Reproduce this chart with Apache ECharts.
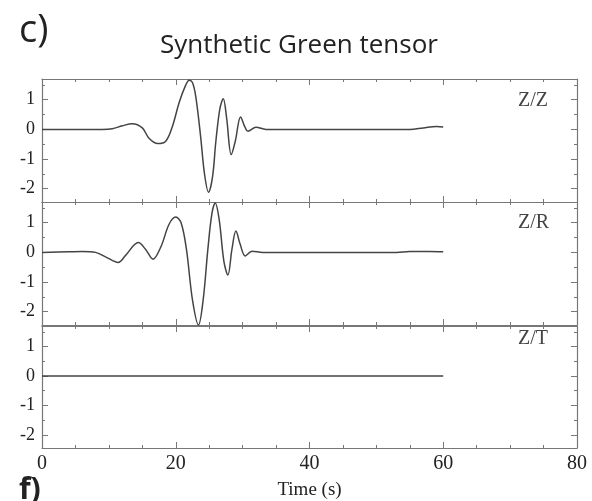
<!DOCTYPE html>
<html>
<head>
<meta charset="utf-8">
<script src="https://cdn.jsdelivr.net/npm/echarts@6/dist/echarts.min.js"></script>
<style>
  html, body { margin: 0; padding: 0; background: #fff; }
  #main { width: 592px; height: 501px; }
</style>
</head>
<body>
<div id="main"></div>
<script>
// traces, [time (s), amplitude]
var zzTrace = [[0,0],[5,0],[9,0],[10.5,0.02],[12,0.12],[13.5,0.19],[15,0.05],[16,-0.3],[17.3,-0.48],
  [18.5,-0.4],[19.5,0.1],[20.5,0.9],[21.5,1.5],[22,1.66],[22.5,1.58],[23,1.1],[23.7,-0.2],[24.3,-1.5],
  [24.9,-2.12],[25.5,-1.6],[26,-0.4],[26.6,0.7],[27.1,1.03],[27.6,0.4],[28.3,-0.85],[28.9,-0.4],
  [29.7,0.42],[30.3,0.1],[30.8,-0.06],[32,0.07],[33.5,0],[55,0],[57,0.05],[59,0.1],[60,0.08]];
var zrTrace = [[0,0],[4,0.02],[6,0.03],[8,0],[9.5,-0.15],[11.4,-0.34],[12.5,-0.1],[14.4,0.33],[15.5,0.1],
  [16.6,-0.23],[17.8,0.2],[19,0.95],[20,1.19],[20.8,1.0],[21.6,0.1],[22.5,-1.6],[23.4,-2.45],[24.1,-1.6],
  [24.8,0.1],[25.4,1.3],[25.9,1.67],[26.5,1.1],[27.2,-0.3],[27.8,-0.76],[28.4,0.1],[29,0.72],[29.6,0.3],
  [30.4,-0.12],[31.4,0.04],[33,0],[53,0],[55,0.03],[58,0.03],[60,0.02]];
var ztTrace = [[0,0],[20,0],[40,0],[60,0]];
var panelNames = ['Z/Z', 'Z/R', 'Z/T'];
var yMajor = [-2, -1, 0, 1];
var yMinor = [-1.5, -0.5, 0.5, 1.5];

var traces = [zzTrace, zrTrace, ztTrace];
var axisColor = '#777';
var serif = 'Liberation Serif';

var chart = echarts.init(document.getElementById('main'));

var tops = [79, 202, 326];
var grids = [], xAxes = [], yAxes = [], series = [];
tops.forEach(function (top, i) {
  grids.push({ left: 42, right: 15, top: top, height: 123 });
  ['bottom', 'top'].forEach(function (pos) {
    var last = (i === 2 && pos === 'bottom');
    xAxes.push({
      type: 'value', gridIndex: i, position: pos, min: 0, max: 80, interval: 20,
      axisLine: { show: true, onZero: false, lineStyle: { color: axisColor, width: 1.2 } },
      axisTick: { show: true, inside: true, length: 6, lineStyle: { color: axisColor } },
      minorTick: { show: true, splitNumber: 4, length: 3, lineStyle: { color: axisColor } },
      splitLine: { show: false },
      axisLabel: { show: last, color: '#222', fontFamily: serif, fontSize: 20, margin: 6 },
      name: last ? 'Time (s)' : '',
      nameLocation: 'middle', nameGap: 33,
      nameTextStyle: { color: '#222', fontFamily: serif, fontSize: 19 }
    });
  });
  ['left', 'right'].forEach(function (pos) {
    [[yMajor, 6], [yMinor, 3]].forEach(function (t, k) {
      yAxes.push({
        type: 'value', gridIndex: i, position: pos, min: -2.45, max: 1.7,
        axisLine: { show: k === 0, onZero: false, lineStyle: { color: axisColor, width: 1.2 } },
        axisTick: { show: true, inside: true, length: t[1], customValues: t[0],
          lineStyle: { color: axisColor } },
        splitLine: { show: false },
        axisLabel: { show: pos === 'left' && k === 0, customValues: yMajor, color: '#222',
          fontFamily: serif, fontSize: 18, margin: 7 }
      });
    });
  });
  series.push({
    type: 'line', xAxisIndex: i * 2, yAxisIndex: i * 4, data: traces[i],
    smooth: 0.35, showSymbol: false, silent: true,
    lineStyle: { color: '#444', width: 1.5 }
  });
});

var graphics = [
  { type: 'text', left: 19, top: 12, style: { text: 'c)', font: '38px "Open Sans"', fill: '#222' } },
  { type: 'text', left: 160, top: 33, style: { text: 'Synthetic Green tensor', font: '26px "Open Sans"', fill: '#222' } },
  { type: 'text', left: 19, top: 475, style: { text: 'f)', font: 'bold 30px "Open Sans"', fill: '#222' } }
];
var labelPos = [[518, 91], [518, 213], [518, 329]];
panelNames.forEach(function (n, i) {
  graphics.push({ type: 'text', left: labelPos[i][0], top: labelPos[i][1],
    style: { text: n, font: '20px "Liberation Serif"', fill: '#444' } });
});

chart.setOption({
  backgroundColor: '#fff',
  animation: false,
  grid: grids,
  xAxis: xAxes,
  yAxis: yAxes,
  series: series,
  graphic: graphics
});
</script>
</body>
</html>
